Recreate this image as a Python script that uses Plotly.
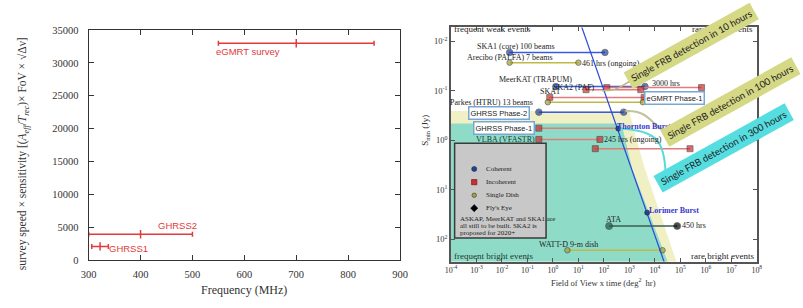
import plotly.graph_objects as go

W, H = 803, 308
SERIF = "Liberation Serif"
SANS = "Liberation Sans"

# ---------------- Left panel data ----------------
left_labels = ["GHRSS1", "GHRSS2", "eGMRT survey"]
freq_center = [322, 400, 700]          # MHz
freq_halfwidth = [16, 100, 150]        # MHz
speed_sens = [2050, 3900, 33000]
left_xticks = [300, 400, 500, 600, 700, 800, 900]
left_yticks = [0, 5000, 10000, 15000, 20000, 25000, 30000, 35000]

# ---------------- Right panel data ----------------
survey_names = ["SKA1 (core) 100 beams", "Arecibo (PALFA) 7 beams", "MeerKAT (TRAPUM)",
                "MeerKAT incoherent", "SKA2 (PAF)", "SKA1", "Parkes (HTRU) 13 beams",
                "GHRSS Phase-2", "GHRSS Phase-1", "VLBA (VFASTR)", "Incoherent survey",
                "ATA", "WATT-D 9-m dish"]
survey_kind = ["coherent", "single", "coherent", "incoherent", "incoherent", "incoherent",
               "single", "coherent", "incoherent", "incoherent", "incoherent",
               "flyseye", "single"]
fov_time_lo = [0.02, 0.02, 1.3, 130, 20, 0.75, 0.63, 0.28, 0.28, 0.28, 46, 160, 3.7]
fov_time_hi = [110, 10, 4100, 6.8e5, 2800, 3800, 3400, 600, 380, 70, 2.4e5, 7.5e4, 2.0e4]
smin_jy = [0.0168, 0.027, 0.082, 0.086, 0.095, 0.136, 0.17, 0.27, 0.57, 0.96, 1.48, 54, 167]
end_marker = [True, True, True, True, True, True, True, True, False, True, True, True, True]

burst_names = ["Thornton Bursts", "Lorimer Burst"]
burst_fov = [367, 5000]
burst_s = [0.58, 29]

euclid_fov = [10, 30000]
euclid_s = [0.0033, 420]

yellow_fov = [1e-5, 1000, 1700, 4100, 73000, 1e-5]
yellow_s = [0.256, 0.256, 0.79, 3.8, 300, 300]
teal_fov = [1e-5, 490, 1300, 33000, 1e-5]
teal_s = [0.46, 0.46, 3.8, 300, 300]

right_xtick_exp = list(range(-4, 9))
right_ytick_exp = [-2, -1, 0, 1, 2]

legend_kinds = ["Coherent", "Incoherent", "Single Dish", "Fly's Eye"]

# ---------------- styles ----------------
RED = "#e23a3a"
styles = {
    "coherent": dict(line="#3a5be0", marker="#1f3f9f", symbol="circle", size=6.5),
    "incoherent": dict(line="#e27c7c", marker="#d42a2a", symbol="square", size=6),
    "single": dict(line="#bdbb48", marker="#a3a335", symbol="circle", size=5.5),
    "flyseye": dict(line="#3d5e52", marker="#10302a", symbol="circle", size=7),
}


def PX(x):
    return x / W


def PY(y):
    return 1 - y / H


fig = go.Figure()

# left panel trace
fig.add_trace(go.Scatter(
    x=freq_center, y=speed_sens, mode="markers",
    marker=dict(symbol="line-ns", size=6, color=RED, line=dict(width=1.5, color=RED)),
    error_x=dict(type="data", array=freq_halfwidth, color=RED, thickness=1.5, width=2.5),
    xaxis="x", yaxis="y", showlegend=False, hoverinfo="skip"))

# right panel: shaded regions
fig.add_trace(go.Scatter(x=yellow_fov, y=yellow_s, fill="toself", mode="lines",
                         fillcolor="#f1f0c4", line=dict(width=0), xaxis="x2", yaxis="y2",
                         showlegend=False, hoverinfo="skip"))
fig.add_trace(go.Scatter(x=teal_fov, y=teal_s, fill="toself", mode="lines",
                         fillcolor="#8edcc8", line=dict(width=0), xaxis="x2", yaxis="y2",
                         showlegend=False, hoverinfo="skip"))

# surveys
for name, kind, lo, hi, s, em in zip(survey_names, survey_kind, fov_time_lo, fov_time_hi,
                                     smin_jy, end_marker):
    st = styles[kind]
    mcol = [st["marker"], st["marker"]]
    if kind == "flyseye":
        mcol = ["#1f5a48", "#000000"]
    fig.add_trace(go.Scatter(
        x=[lo, hi], y=[s, s], mode="lines+markers", name=name,
        line=dict(color=st["line"], width=1.5),
        marker=dict(symbol=st["symbol"], size=[st["size"], st["size"] if em else 0],
                    color=mcol, line=dict(width=0.8, color="#333333")),
        xaxis="x2", yaxis="y2", showlegend=False, hoverinfo="skip"))

# euclidean line
fig.add_trace(go.Scatter(x=euclid_fov, y=euclid_s, mode="lines",
                         line=dict(color="#2b48d8", width=1.2), xaxis="x2", yaxis="y2",
                         showlegend=False, hoverinfo="skip"))
# bursts
fig.add_trace(go.Scatter(x=burst_fov, y=burst_s, mode="markers",
                         marker=dict(size=5, color="#2a3f9a", line=dict(width=0.6, color="#222")),
                         xaxis="x2", yaxis="y2", showlegend=False, hoverinfo="skip"))

ann = []


def txt(x, y, s, size=8, color="#222222", family=SERIF, xanchor="center", **kw):
    d = dict(x=PX(x), y=PY(y), xref="paper", yref="paper", text=s, showarrow=False,
             font=dict(size=size, color=color, family=family), xanchor=xanchor,
             yanchor="middle")
    d.update(kw)
    ann.append(d)


# left panel texts
txt(245, 48.5, left_labels[2], size=9.5, color=RED, family=SANS)
txt(173, 228.5, left_labels[1], size=9.5, color=RED, family=SANS)
txt(123, 252.5, left_labels[0], size=9.5, color=RED, family=SANS)
txt(15, 154, "survey speed × sensitivity [(<i>A</i><sub><i>eff</i></sub>/<i>T</i><sub><i>rec</i></sub>)× FoV × √Δν]",
    size=11.5, color="#333333", textangle=-90)
txt(241, 296, "Frequency (MHz)", size=12, color="#333333")

# right panel texts
txt(494, 24.5, "frequent weak events", size=9)
txt(729, 25, "rare weak events", size=9)
txt(518, 43.5, survey_names[0], size=8)
txt(512, 54, survey_names[1], size=8)
txt(584, 60.5, "461 hrs (ongoing)", size=8, xanchor="left")
txt(538, 77.5, survey_names[2], size=8)
txt(577, 86, survey_names[4], size=8)
txt(553, 90, survey_names[5], size=8)
txt(655, 81, "3000 hrs", size=8, xanchor="left")
txt(493, 101, survey_names[6], size=8)
txt(508, 139.5, survey_names[9], size=8, color="#1d3a30")
txt(606, 139.5, "245 hrs (ongoing)", size=8, xanchor="left")
txt(650, 126, "<b>" + burst_names[0] + "</b>", size=8, color="#3838d0")
txt(680, 213, "<b>" + burst_names[1] + "</b>", size=8, color="#3838d0")
txt(618, 222, survey_names[11], size=8)
txt(686, 229, "450 hrs", size=8, xanchor="left")
txt(572, 248, survey_names[12], size=8)
txt(495, 260, "frequent bright events", size=9, color="#1d3a30")
txt(729, 260, "rare bright events", size=9)
txt(608, 287.5, "Field of View x time (deg<sup>2</sup>  hr)", size=8.5, color="#333333")
txt(426, 130, "S<sub>min</sub> (Jy)", size=9, color="#333333", textangle=-90)

# boxed labels
for (cx, cy, s) in [(500.7, 111.7, survey_names[7]), (505.7, 127.2, survey_names[8]),
                    (680, 96.5, "eGMRT Phase-1")]:
    txt(cx, cy, s, size=7.5, family=SANS, bgcolor="white", bordercolor="#7aa6d6",
        borderwidth=1.5, borderpad=1)

# legend texts
for lbl, ly in zip(legend_kinds, [170, 183.7, 197.3, 210.7]):
    txt(486, ly, lbl, size=7, xanchor="left")
for line, ly in zip(["ASKAP, MeerKAT and SKA1 are", "all still to be built. SKA2 is",
                     "proposed for 2020+"], [221.7, 229.2, 236.7]):
    txt(459, ly, line, size=7, xanchor="left")

# callouts
txt(697, 43, "Single FRB detection in 10 hours", size=9.5, family="Lato", color="#222",
    bgcolor="#d5d884", borderpad=3.5, textangle=-29)
txt(737, 101, "Single FRB detection in 100 hours", size=9.5, family="Lato", color="#222",
    bgcolor="#d5d884", borderpad=3.5, textangle=-29)
txt(730, 148, "Single FRB detection in 300 hours", size=9.5, family="Lato", color="#222",
    bgcolor="#55dde0", borderpad=3.5, textangle=-29)


def path(pts):
    (x0, y0), rest = pts[0], pts[1:]
    s = "M %.5f,%.5f C " % (PX(x0), PY(y0))
    s += " ".join("%.5f,%.5f" % (PX(x), PY(y)) for x, y in rest)
    return s


shapes = []
# connectors
shapes.append(dict(type="path", xref="paper", yref="paper", layer="above",
                   path=path([(644, 76), (628, 78), (630, 89), (606, 89)]),
                   line=dict(color="#b7ba7a", width=1.5)))
shapes.append(dict(type="path", xref="paper", yref="paper", layer="above",
                   path=path([(630, 110), (660, 108), (656, 134), (684, 133)]),
                   line=dict(color="#c4c29c", width=2)))
shapes.append(dict(type="path", xref="paper", yref="paper", layer="above",
                   path=path([(624, 128), (662, 130), (670, 140), (671, 176)]),
                   line=dict(color="#5adada", width=2)))
# legend box
shapes.append(dict(type="rect", xref="paper", yref="paper", layer="above",
                   x0=PX(455.7), x1=PX(549), y0=PY(241.7), y1=PY(143.3),
                   fillcolor="#c8c8c8", line=dict(color="#3a3a3a", width=1.5)))


def circ(cx, cy, r, fill):
    shapes.append(dict(type="circle", xref="paper", yref="paper", layer="above",
                       x0=PX(cx - r), x1=PX(cx + r), y0=PY(cy + r), y1=PY(cy - r),
                       fillcolor=fill, line=dict(color="#333", width=0.6)))


circ(475.7, 170, 2.6, "#1f3f9f")
shapes.append(dict(type="rect", xref="paper", yref="paper", layer="above",
                   x0=PX(473), x1=PX(478.4), y0=PY(186.4), y1=PY(181),
                   fillcolor="#d42a2a", line=dict(color="#5a1010", width=0.6)))
circ(475.7, 197.3, 2.3, "#a3a335")
shapes.append(dict(type="path", xref="paper", yref="paper", layer="above",
                   path="M %f,%f L %f,%f L %f,%f L %f,%f Z" % (
                       PX(472), PY(210.7), PX(475.7), PY(207), PX(479.4), PY(210.7),
                       PX(475.7), PY(214.4)),
                   fillcolor="#000", line=dict(color="#000", width=0.5)))

axis_common = dict(showgrid=False, zeroline=False, showline=True, mirror="ticks",
                   ticks="inside")

fig.update_layout(
    width=W, height=H, margin=dict(l=0, r=0, t=0, b=0),
    paper_bgcolor="white", plot_bgcolor="white", showlegend=False,
    xaxis=dict(domain=[PX(82.3), PX(400)], range=[300, 900], tickvals=left_xticks,
               anchor="y", linecolor="#333", linewidth=1, ticklen=5, tickcolor="#333",
               ticklabelstandoff=5,
               tickfont=dict(family=SERIF, size=10.5, color="#333"), **axis_common),
    yaxis=dict(domain=[PY(264.3), PY(26)], range=[0, 35000], tickvals=left_yticks,
               tickformat="d", anchor="x", linecolor="#333", linewidth=1, ticklen=5,
               ticklabelstandoff=7,
               tickcolor="#333", tickfont=dict(family=SERIF, size=10.5, color="#333"),
               **axis_common),
    xaxis2=dict(domain=[PX(452), PX(764)], type="log", range=[-4, 8], anchor="y2",
                tickvals=[10 ** e for e in right_xtick_exp],
                ticktext=["10<sup>%d</sup>" % e for e in right_xtick_exp],
                linecolor="#555", linewidth=1.5, ticklen=4, tickcolor="#555",
                ticklabelstandoff=0,
                tickfont=dict(family=SERIF, size=8, color="#333"), **axis_common),
    yaxis2=dict(domain=[PY(266), PY(23.3)], type="log", range=[2.45, -2.28], anchor="x2",
                tickvals=[10 ** e for e in right_ytick_exp],
                ticktext=["10<sup>%d</sup>" % e for e in right_ytick_exp],
                linecolor="#555", linewidth=1.5, ticklen=4, tickcolor="#555",
                tickfont=dict(family=SERIF, size=8.5, color="#333"), **axis_common),
    annotations=ann, shapes=shapes,
)

fig.write_html("out.html", config={"displayModeBar": False},
               post_script="document.body.style.margin='0';"
                           "document.documentElement.style.overflow='hidden';")
